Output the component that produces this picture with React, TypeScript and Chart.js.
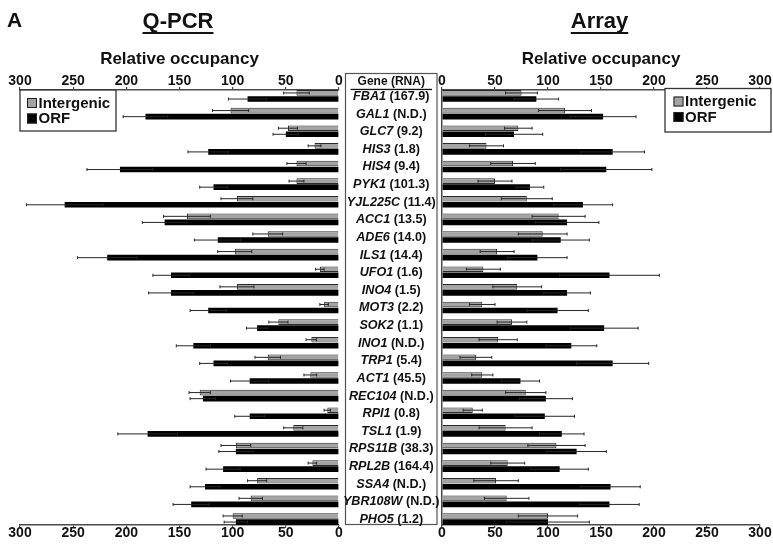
import React, { useEffect, useRef } from 'react';
import { Chart, registerables } from 'chart.js';

Chart.register(...registerables);

const FONT = '"Liberation Sans", Arial, Helvetica, sans-serif';
const W = 773;
const H = 546;

// ---------- data ----------
const genes = ['FBA1', 'GAL1', 'GLC7', 'HIS3', 'HIS4', 'PYK1', 'YJL225C', 'ACC1', 'ADE6', 'ILS1', 'UFO1', 'INO4', 'MOT3', 'SOK2', 'INO1', 'TRP1', 'ACT1', 'REC104', 'RPI1', 'TSL1', 'RPS11B', 'RPL2B', 'SSA4', 'YBR108W', 'PHO5'];
const rnaLevels = ['167.9', 'N.D.', '9.2', '1.8', '9.4', '101.3', '11.4', '13.5', '14.0', '14.4', '1.6', '1.5', '2.2', '1.1', 'N.D.', '5.4', '45.5', 'N.D.', '0.8', '1.9', '38.3', '164.4', 'N.D.', 'N.D.', '1.2'];
const seriesNames = ['Intergenic', 'ORF'];
const occupancyMin = 0;
const occupancyMax = 300;
const occupancyStep = 50;

const qpcrIntergenic = [40, 102, 48, 23, 40, 40, 96, 143, 67, 98, 18, 96, 14, 57, 26, 67, 27, 131, 11, 43, 97, 25, 77, 83, 100];
const qpcrIntergenicErr = [12, 17, 9, 6, 9, 7, 15, 22, 14, 16, 4, 16, 4, 9, 5, 12, 6, 10, 3, 9, 14, 4, 9, 11, 9];
const qpcrOrf = [86, 182, 50, 123, 206, 118, 258, 164, 114, 218, 158, 158, 123, 77, 137, 118, 84, 128, 84, 180, 97, 109, 126, 139, 97];
const qpcrOrfErr = [18, 21, 12, 19, 31, 13, 36, 21, 22, 28, 17, 21, 17, 10, 16, 13, 18, 12, 14, 28, 16, 16, 14, 17, 11];

const arrayIntergenic = [75, 116, 72, 42, 67, 50, 80, 110, 95, 52, 39, 71, 38, 66, 53, 32, 38, 79, 29, 60, 108, 62, 51, 61, 100];
const arrayIntergenicErr = [15, 25, 13, 16, 21, 16, 24, 25, 23, 16, 16, 23, 12, 14, 18, 15, 10, 19, 9, 25, 27, 16, 21, 21, 28];
const arrayOrf = [89, 152, 68, 161, 155, 83, 133, 118, 112, 90, 158, 118, 109, 153, 122, 161, 74, 98, 97, 113, 127, 111, 159, 158, 100];
const arrayOrfErr = [21, 31, 27, 30, 43, 13, 28, 30, 27, 28, 47, 22, 29, 32, 24, 34, 18, 25, 28, 21, 28, 27, 28, 28, 39];

// ---------- styles ----------
const GRAY = '#a4a4a4';
const AXIS = '#4a4a4a';
const GENE_FONT_SIZE = 12.6;

// ---------- plugins ----------
const errorBars = {
  id: 'errorBars',
  afterDatasetsDraw(chart: any) {
    const ctx = chart.ctx;
    const xs = chart.scales.x;
    chart.data.datasets.forEach((ds: any, di: number) => {
      const meta = chart.getDatasetMeta(di);
      meta.data.forEach((el: any, j: number) => {
        const v = ds.data[j].x;
        const e = ds.errors[j];
        const a = xs.getPixelForValue(v - e);
        const b = xs.getPixelForValue(v + e);
        const y = el.y;
        ctx.save();
        ctx.strokeStyle = '#262626';
        ctx.lineWidth = 1;
        ctx.beginPath();
        ctx.moveTo(a, y);
        ctx.lineTo(b, y);
        ctx.moveTo(a, y - 1.5);
        ctx.lineTo(a, y + 1.5);
        ctx.moveTo(b, y - 1.5);
        ctx.lineTo(b, y + 1.5);
        ctx.stroke();
        ctx.restore();
      });
    });
  },
};

const boxLegend = {
  id: 'boxLegend',
  afterDraw(chart: any, _args: any, opts: any) {
    const { ctx, chartArea } = chart;
    const left = opts.anchor === 'left' ? chartArea.left : chartArea.right + opts.overhang - opts.width;
    const top = chartArea.top + opts.dy;
    ctx.save();
    ctx.fillStyle = '#fff';
    ctx.fillRect(left, top, opts.width, opts.height);
    ctx.strokeStyle = '#333';
    ctx.lineWidth = 1.3;
    ctx.strokeRect(left, top, opts.width, opts.height);
    ctx.font = `bold 15px ${FONT}`;
    ctx.textBaseline = 'middle';
    ctx.textAlign = 'left';
    chart.data.datasets.forEach((ds: any, i: number) => {
      const cy = top + 13 + i * 15.5;
      const sx = left + opts.swatchX;
      ctx.fillStyle = ds.backgroundColor;
      ctx.fillRect(sx, cy - 5, 10, 10);
      ctx.strokeStyle = '#222';
      ctx.lineWidth = 1;
      ctx.strokeRect(sx + 0.5, cy - 4.5, 9, 9);
      ctx.fillStyle = '#111';
      ctx.fillText(ds.label, sx + 11.5, cy + 0.5);
    });
    ctx.restore();
  },
};

const heading = {
  id: 'heading',
  afterDraw(chart: any, _args: any, opts: any) {
    const { ctx, chartArea } = chart;
    const cx = (chartArea.left + chartArea.right) / 2 + opts.dx;
    ctx.save();
    ctx.fillStyle = '#111';
    ctx.font = `bold 22px ${FONT}`;
    ctx.textAlign = 'center';
    ctx.textBaseline = 'alphabetic';
    ctx.fillText(opts.text, cx, 28);
    const w = ctx.measureText(opts.text).width;
    ctx.fillRect(cx - w / 2, 32, w, 2);
    if (opts.letter) {
      ctx.font = `bold 21px ${FONT}`;
      ctx.textAlign = 'left';
      ctx.fillText(opts.letter, 7, 27);
    }
    ctx.restore();
  },
};

const geneColumn = {
  id: 'geneColumn',
  afterDraw(chart: any, _args: any, opts: any) {
    if (!opts.show) return;
    const { ctx, chartArea } = chart;
    const ys = chart.scales.y;
    const bl = chartArea.right + 6.5;
    const br = chartArea.right + 98;
    const bt = 73.5;
    const bb = chartArea.bottom - 0.5;
    const cx = (bl + br) / 2;
    ctx.save();
    ctx.fillStyle = '#fff';
    ctx.fillRect(bl, bt, br - bl, bb - bt);
    ctx.strokeStyle = '#555';
    ctx.lineWidth = 1.2;
    ctx.strokeRect(bl, bt, br - bl, bb - bt);
    ctx.fillStyle = '#111';
    ctx.textBaseline = 'middle';
    ctx.textAlign = 'left';
    ctx.font = `bold 12px ${FONT}`;
    const head = 'Gene (RNA)';
    const hw = ctx.measureText(head).width;
    ctx.fillText(head, cx - hw / 2, 81.5);
    ctx.fillRect(bl + 5, 88.8, br - bl - 10, 1.3);
    const fItal = `italic bold ${GENE_FONT_SIZE}px ${FONT}`;
    const fNorm = `bold ${GENE_FONT_SIZE}px ${FONT}`;
    genes.forEach((g, i) => {
      const y = ys.getPixelForValue(i) + 0.5;
      ctx.font = fItal;
      const w1 = ctx.measureText(g).width;
      const rest = ' (' + rnaLevels[i] + ')';
      ctx.font = fNorm;
      const w2 = ctx.measureText(rest).width;
      const x0 = cx - (w1 + w2) / 2;
      ctx.font = fItal;
      ctx.fillText(g, x0, y);
      ctx.font = fNorm;
      ctx.fillText(rest, x0 + w1, y);
    });
    ctx.restore();
  },
};

// ---------- config ----------
function buildConfig(
  panel: 'left' | 'right',
  intergenic: number[],
  intergenicErr: number[],
  orf: number[],
  orfErr: number[],
  title: string,
): any {
  const reverse = panel === 'left';
  const tickFont = { family: FONT, size: 14, weight: 'bold' as const };
  const xAxis = (position: 'top' | 'bottom', withTitle: boolean) => ({
    type: 'linear',
    position,
    min: occupancyMin,
    max: occupancyMax,
    reverse,
    offset: false,
    border: { display: true, color: AXIS, width: 1.5 },
    grid: { drawOnChartArea: false, drawTicks: true, tickLength: 3, color: AXIS, lineWidth: 1.2 },
    ticks: {
      stepSize: occupancyStep,
      font: tickFont,
      color: '#111',
      padding: position === 'top' ? -2.4 : -3.4,
      maxRotation: 0,
      autoSkip: false,
    },
    title: withTitle
      ? {
          display: true,
          text: 'Relative occupancy',
          color: '#111',
          font: { family: FONT, size: 17, weight: 'bold' },
          padding: { top: 49, bottom: 0 },
        }
      : { display: false },
    afterFit: (s: any) => {
      s.height = position === 'top' ? 90 : 21;
      s.paddingLeft = 0;
      s.paddingRight = 0;
    },
  });

  return {
    type: 'bar',
    data: {
      datasets: [
        {
          label: seriesNames[0],
          data: intergenic.map((v, i) => ({ x: v, y: i })),
          errors: intergenicErr,
          backgroundColor: GRAY,
          borderColor: '#2a2a2a',
          borderWidth: 1,
          xAxisID: 'x',
          yAxisID: 'y',
        },
        {
          label: seriesNames[1],
          data: orf.map((v, i) => ({ x: v, y: i })),
          errors: orfErr,
          backgroundColor: '#000000',
          borderWidth: 0,
          xAxisID: 'x',
          yAxisID: 'y',
        },
      ],
    },
    options: {
      indexAxis: 'y',
      animation: false,
      responsive: false,
      devicePixelRatio: 1,
      categoryPercentage: 0.69,
      barPercentage: 0.93,
      layout: {
        padding: panel === 'left' ? { left: 20, right: 101, top: 0, bottom: 0 } : { left: 6, right: 13, top: 0, bottom: 0 },
      },
      scales: {
        x: xAxis('top', true),
        x2: xAxis('bottom', false),
        y: {
          type: 'linear',
          min: -0.34,
          max: genes.length - 1 + 0.34,
          bounds: 'data',
          offset: false,
          grace: 0,
          reverse: true,
          display: panel === 'right',
          position: 'left',
          grid: { display: false, drawTicks: false, offset: false },
          border: { display: true, color: AXIS, width: 1.5 },
          ticks: { display: false },
          afterFit: (s: any) => {
            s.width = 0;
          },
        },
      },
      plugins: {
        legend: { display: false },
        tooltip: { enabled: false },
        boxLegend:
          panel === 'left'
            ? { anchor: 'left', width: 96, height: 41, dy: 0, overhang: 0, swatchX: 7 }
            : { anchor: 'right', width: 106, height: 43.5, dy: -1.5, overhang: 11, swatchX: 8.5 },
        heading: { text: title, dx: -1.5, letter: panel === 'left' ? 'A' : '' },
        geneColumn: { show: panel === 'left' },
      },
    },
    plugins: [errorBars, boxLegend, heading, geneColumn],
  };
}

function Panel({ makeConfig, left, width }: { makeConfig: () => any; left: number; width: number }) {
  const ref = useRef<HTMLCanvasElement>(null);
  useEffect(() => {
    const chart = new Chart(ref.current as HTMLCanvasElement, makeConfig());
    return () => chart.destroy();
  }, []);
  return (
    <canvas
      ref={ref}
      width={width}
      height={H}
      style={{ position: 'absolute', left, top: 0, width, height: H }}
    />
  );
}

export default function App() {
  return (
    <div
      style={{
        position: 'fixed',
        left: 0,
        top: 0,
        width: W,
        height: H,
        background: '#fff',
        overflow: 'hidden',
      }}
    >
      <Panel
        left={0}
        width={440}
        makeConfig={() => buildConfig('left', qpcrIntergenic, qpcrIntergenicErr, qpcrOrf, qpcrOrfErr, 'Q-PCR')}
      />
      <Panel
        left={436}
        width={337}
        makeConfig={() => buildConfig('right', arrayIntergenic, arrayIntergenicErr, arrayOrf, arrayOrfErr, 'Array')}
      />
    </div>
  );
}
